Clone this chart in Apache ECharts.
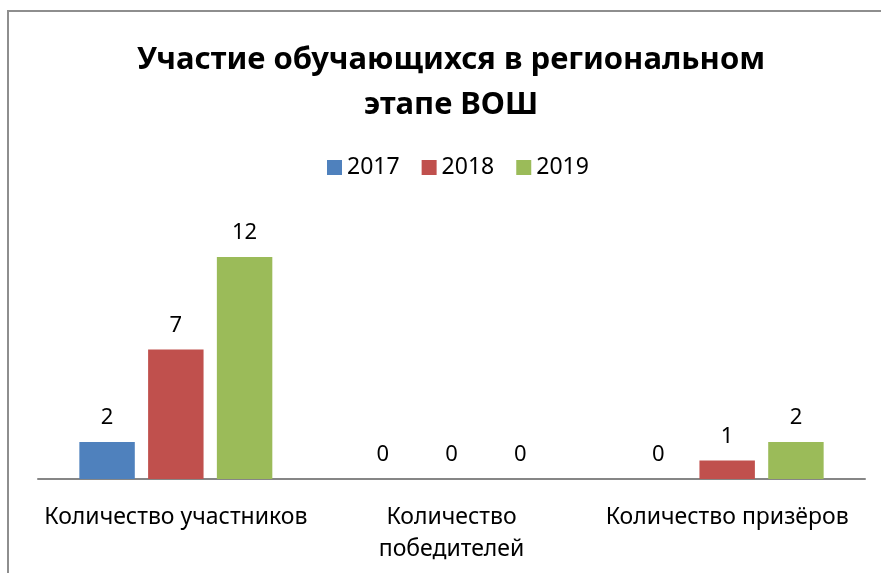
<!DOCTYPE html>
<html>
<head>
<meta charset="utf-8">
<script src="https://cdn.jsdelivr.net/npm/echarts@6/dist/echarts.min.js"></script>
<style>
  html, body { margin: 0; padding: 0; background: #fff; }
  #frame { position: absolute; left: 7px; top: 10px; width: 874px; height: 563px;
           border-left: 2px solid #8e8e8e; border-top: 2px solid #8e8e8e; }
  #container { position: absolute; left: 0; top: 0; width: 881px; height: 573px; }
</style>
</head>
<body>
<div id="frame"></div>
<div id="container"></div>
<script>
// data
let categories = ['Количество участников', 'Количество\nпобедителей', 'Количество призёров'];
let years = ['2017', '2018', '2019'];
let values2017 = [2, 0, 0];
let values2018 = [7, 0, 1];
let values2019 = [12, 0, 2];
let colors = ['#4F81BD', '#C0504D', '#9BBB59'];

let dom = document.getElementById("container");
let myChart = echarts.init(dom);
let font = 'Noto Sans';

function makeSeries(name, data, color) {
    return {
        name: name,
        type: 'bar',
        data: data,
        itemStyle: { color: color },
        barGap: '24%',
        barCategoryGap: '30%',
        label: {
            show: true,
            position: 'top',
            distance: 13,
            color: '#000',
            fontFamily: font,
            fontSize: 22
        }
    };
}

let option = {
    animation: false,
    title: {
        text: 'Участие обучающихся в региональном\nэтапе ВОШ',
        left: 446,
        top: 33,
        textAlign: 'center',
        textStyle: {
            fontFamily: font,
            fontWeight: 'bold',
            fontSize: 31,
            lineHeight: 45,
            color: '#000'
        }
    },
    legend: {
        data: years,
        left: 322,
        top: 151,
        icon: 'rect',
        itemWidth: 15,
        itemHeight: 15,
        itemGap: 22,
        textStyle: { fontFamily: font, fontSize: 23, color: '#000' }
    },
    grid: {
        left: 38,
        right: 16,
        top: 220,
        bottom: 94
    },
    xAxis: {
        type: 'category',
        data: categories,
        axisTick: { show: false },
        axisLine: { lineStyle: { color: '#868686', width: 2 } },
        axisLabel: {
            interval: 0,
            margin: 22,
            lineHeight: 32,
            color: '#000',
            fontFamily: font,
            fontSize: 23
        }
    },
    yAxis: {
        type: 'value',
        min: 0,
        max: 14,
        show: false,
        splitLine: { show: false }
    },
    series: [
        makeSeries(years[0], values2017, colors[0]),
        makeSeries(years[1], values2018, colors[1]),
        makeSeries(years[2], values2019, colors[2])
    ]
};
myChart.setOption(option, true);
</script>
</body>
</html>
